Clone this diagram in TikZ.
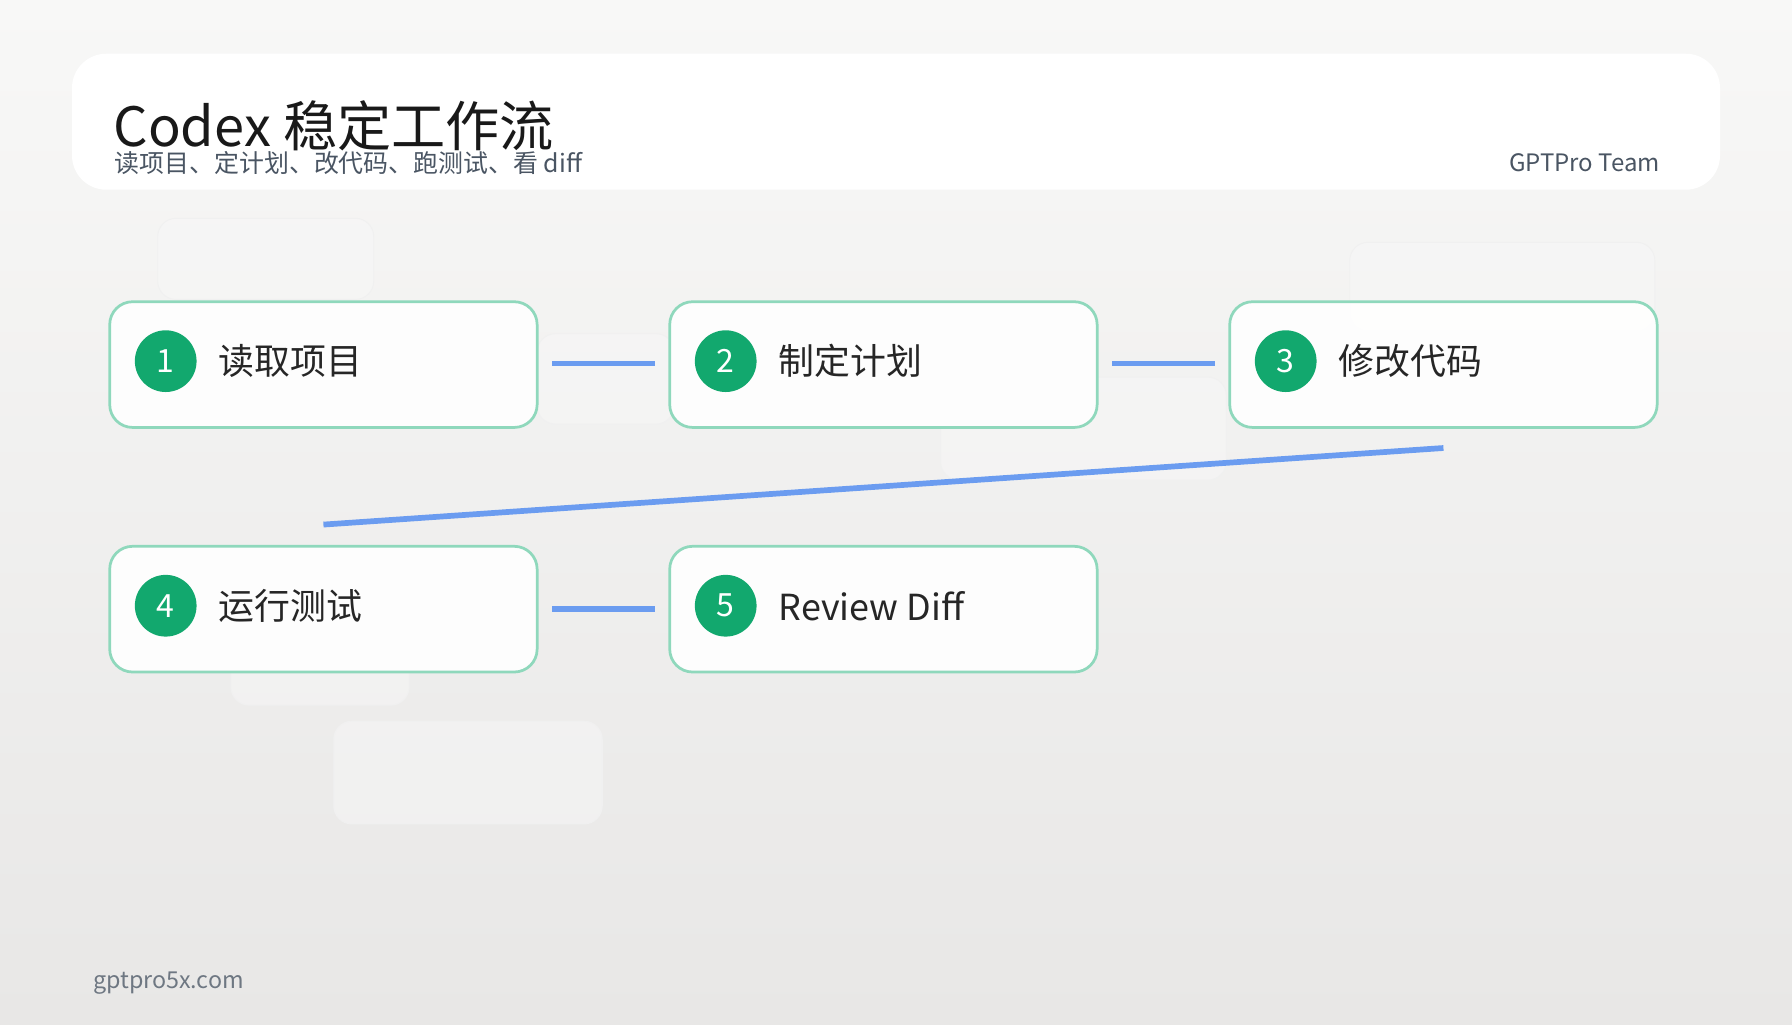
\documentclass[tikz,border=0pt]{standalone}
\usepackage{fontspec}
\setmainfont{Noto Sans CJK SC}
\usetikzlibrary{positioning}
\definecolor{edge}{HTML}{8FD8BC}
\definecolor{badge}{HTML}{12A86E}
\definecolor{link}{HTML}{6B9CF0}
\definecolor{subgray}{HTML}{4A5563}
\tikzset{
  stepbox/.style={draw=edge,line width=1.2pt,fill=white,fill opacity=0.9,rounded corners=10pt},
  ghost/.style={draw=black!6,fill=black!3,fill opacity=0.5,rounded corners=8pt},
  num/.style={circle,fill=badge,text=white,minimum size=27pt,inner sep=0pt,font=\fontsize{14}{14}\selectfont},
  label/.style={anchor=west,inner sep=0pt,font=\fontsize{15.7}{15.7}\selectfont,text=black!85},
  link/.style={draw=link,line width=2.5pt}
}
\begin{document}
\begin{tikzpicture}[x=0.5pt,y=-0.5pt]
  \shade[top color={rgb,255:red,248;green,248;blue,247},bottom color={rgb,255:red,232;green,231;blue,230}] (0,0) rectangle (1568,896);
  \useasboundingbox (0,0) rectangle (1568,896);
  % header
  \fill[white,rounded corners=15pt] (63,47) rectangle (1505,166);
  \node[anchor=base west,inner sep=0pt,font=\fontsize{23.7}{23.7}\selectfont,text=black!90] (title) at (99,128) {Codex 稳定工作流};
  \node[anchor=base west,inner sep=0pt,font=\fontsize{10.9}{10.9}\selectfont,text=subgray] (sub) at (100,151) {读项目、定计划、改代码、跑测试、看 diff};
  \node[anchor=base east,inner sep=0pt,font=\fontsize{10.5}{10.5}\selectfont,text=subgray] (team) at (1453,150) {GPTPro Team};
  % faint boxes
  \draw[ghost] (138,191) rectangle (327,262);
  \draw[ghost] (470,292) rectangle (590,371);
  \draw[ghost] (823,330) rectangle (1073,420);
  \draw[ghost] (1181,212) rectangle (1448,290);
  \draw[ghost] (202,555) rectangle (358,617);
  \draw[ghost] (292,631) rectangle (527,721);
  % steps
  \foreach \i/\x/\y/\t in {1/96/264/读取项目,2/586/264/制定计划,3/1076/264/修改代码,4/96/478/运行测试,5/586/478/Review Diff}{
    \draw[stepbox] (\x,\y) rectangle ++(374,110);
    \node[num] (n\i) at (\x+49,\y+52) {\i};
    \node[label] (s\i) at (\x+95,\y+52) {\t};
  }
  \coordinate (a1) at (483,318); \coordinate (b1) at (573,318);
  \coordinate (a2) at (973,318); \coordinate (b2) at (1063,318);
  \coordinate (a3) at (1263,392); \coordinate (b3) at (283,459);
  \coordinate (a4) at (483,533); \coordinate (b4) at (573,533);
  \foreach \i in {1,...,4} \draw[link] (a\i) -- (b\i);
  \node[anchor=base west,inner sep=0pt,font=\fontsize{10.2}{10.2}\selectfont,text=subgray!80] (site) at (81,865) {gptpro5x.com};
\end{tikzpicture}
\end{document}
